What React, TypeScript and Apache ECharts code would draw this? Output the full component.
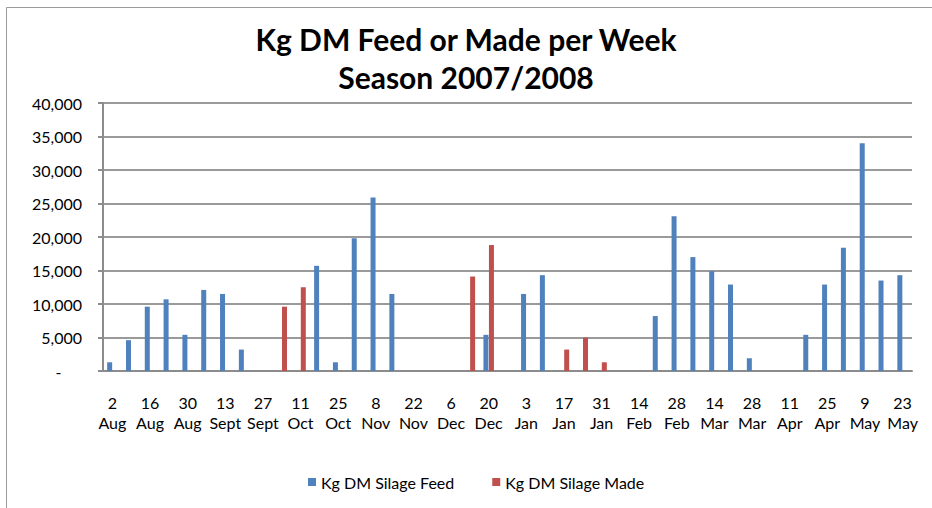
import React, { useEffect, useRef } from "react";
import * as echarts from "echarts";

const categories = [
  "2 Aug", "9 Aug", "16 Aug", "23 Aug", "30 Aug", "6 Sept", "13 Sept", "20 Sept", "27 Sept",
  "4 Oct", "11 Oct", "18 Oct", "25 Oct", "1 Nov", "8 Nov", "15 Nov", "22 Nov", "29 Nov",
  "6 Dec", "13 Dec", "20 Dec", "27 Dec", "3 Jan", "10 Jan", "17 Jan", "24 Jan", "31 Jan",
  "7 Feb", "14 Feb", "21 Feb", "28 Feb", "7 Mar", "14 Mar", "21 Mar", "28 Mar", "4 Apr",
  "11 Apr", "18 Apr", "25 Apr", "2 May", "9 May", "16 May", "23 May",
];

const silageFeed = [
  1300, 4600, 9600, 10700, 5400, 12100, 11500, 3200, null, null, null, 15700, 1300, 19800,
  25900, 11500, null, null, null, null, 5400, null, 11500, 14300, null, null, null, null,
  null, 8200, 23100, 17000, 14900, 12900, 1900, null, null, 5400, 12900, 18400, 34000,
  13500, 14300,
];

const silageMade = [
  null, null, null, null, null, null, null, null, null, 9600, 12500, null, null, null,
  null, null, null, null, null, 14100, 18800, null, null, null, 3200, 5000, 1300, null,
  null, null, null, null, null, null, null, null, null, null, null, null, null, null, null,
];

const titleLines = ["Kg DM Feed or Made per Week", "Season 2007/2008"];
const seriesNames = ["Kg DM Silage Feed", "Kg DM Silage Made"];

const FONT = "Lato, 'Open Sans', sans-serif";

export default function App() {
  const ref = useRef<HTMLDivElement>(null);
  useEffect(() => {
    document.body.style.margin = "0";
    if (!ref.current) return;
    const chart = echarts.init(ref.current, null, { renderer: "svg" });
    chart.setOption({
      animation: false,
      backgroundColor: "#ffffff",
      textStyle: { fontFamily: FONT },
      graphic: [
        {
          type: "rect",
          shape: { x: 6.5, y: 7.5, width: 1000, height: 600 },
          style: { fill: "none", stroke: "#9a9a9a", lineWidth: 1 },
          silent: true,
        },
      ],
      title: {
        text: titleLines.join("\n"),
        left: "center",
        top: 15,
        textStyle: {
          fontFamily: FONT,
          fontWeight: "bold",
          fontSize: 30,
          lineHeight: 38,
          color: "#000000",
        },
      },
      legend: {
        left: 303,
        top: 469,
        itemWidth: 8,
        itemHeight: 8,
        itemGap: 38,
        icon: "rect",
        textStyle: { fontFamily: FONT, fontSize: 16, color: "#000000" },
        data: seriesNames,
      },
      grid: { left: 103, right: 20, top: 103, bottom: 137, containLabel: false },
      xAxis: {
        type: "category",
        data: categories,
        axisLine: { lineStyle: { color: "#8c8c8c", width: 2 } },
        axisTick: { show: false },
        axisLabel: {
          interval: 1,
          margin: 21,
          fontFamily: FONT,
          fontSize: 16,
          lineHeight: 20,
          color: "#000000",
          formatter: (v: string) => v.replace(" ", "\n"),
        },
      },
      yAxis: {
        type: "value",
        min: 0,
        max: 40000,
        interval: 5000,
        axisLine: { show: true, lineStyle: { color: "#8c8c8c", width: 2 } },
        axisTick: { show: true, length: 5, lineStyle: { color: "#8c8c8c", width: 2 } },
        splitLine: { lineStyle: { color: "#9a9a9a", width: 2 } },
        axisLabel: {
          margin: 21,
          fontFamily: FONT,
          fontSize: 16,
          color: "#000000",
          formatter: (v: number) => (v === 0 ? "-     " : v.toLocaleString("en-US")),
        },
      },
      series: [
        {
          name: seriesNames[0],
          type: "bar",
          data: silageFeed,
          barWidth: 5,
          barGap: "10%",
          itemStyle: { color: "#4F81BD" },
        },
        {
          name: seriesNames[1],
          type: "bar",
          data: silageMade,
          barWidth: 5,
          barGap: "10%",
          itemStyle: { color: "#C0504D" },
        },
      ],
    });
    return () => chart.dispose();
  }, []);
  return (
    <div
      ref={ref}
      style={{ position: "fixed", left: 0, top: 0, width: 932, height: 508 }}
    />
  );
}
